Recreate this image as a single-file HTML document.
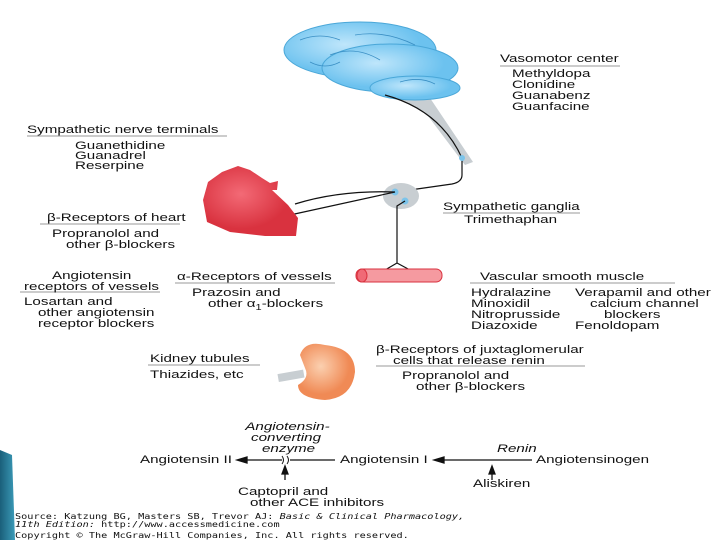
<!DOCTYPE html>
<html><head><meta charset="utf-8"><style>
body{margin:0;width:720px;height:540px;background:#fff;overflow:hidden}
svg text{font-family:"Liberation Sans",sans-serif;font-size:11px;fill:#111;transform-box:fill-box;transform-origin:0 0;transform:scaleX(1.38)}
svg text.m{font-family:"DejaVu Sans Mono","Liberation Mono",monospace;font-size:8px;transform:scaleX(1.28)}
</style></head><body>
<svg width="720" height="540" viewBox="0 0 720 540">
<defs>
<linearGradient id="bl" x1="0" x2="1"><stop offset="0" stop-color="#1a5f7a"/><stop offset="1" stop-color="#3b9bb8"/></linearGradient>
<radialGradient id="br" cx=".4" cy=".4"><stop offset="0" stop-color="#bfe6fb"/><stop offset="1" stop-color="#6cc2ef"/></radialGradient>
<radialGradient id="hr" cx=".4" cy=".4"><stop offset="0" stop-color="#f36a76"/><stop offset="1" stop-color="#d9323f"/></radialGradient>
<radialGradient id="kd" cx=".4" cy=".4"><stop offset="0" stop-color="#fbd0b0"/><stop offset="1" stop-color="#f08a55"/></radialGradient>
</defs>
<path d="M0 450 L12 455 L15 540 L0 540Z" fill="url(#bl)"/>
<path d="M390 95 L430 98 L473 162 L465 165 L425 112 Z" fill="#c8ced2"/>
<ellipse cx="360" cy="50" rx="76" ry="28" fill="url(#br)" stroke="#4aa7d8"/>
<ellipse cx="390" cy="68" rx="68" ry="24" fill="url(#br)" stroke="#4aa7d8"/>
<ellipse cx="415" cy="88" rx="45" ry="12" fill="url(#br)" stroke="#4aa7d8"/>
<path d="M300 40 q20 -8 40 0 M330 55 q25 -10 50 5 M355 35 q30 -5 60 10 M310 62 q15 8 30 0 M400 82 q20 -6 35 2" stroke="#3a8fc4" fill="none" stroke-width=".8"/>
<path d="M385 95 Q440 110 462 158 L462 175 Q462 182 452 184 L410 190" stroke="#111" fill="none" stroke-width="1.2"/>
<ellipse cx="401" cy="196" rx="18" ry="13" fill="#c8ced2"/>
<circle cx="395" cy="192" r="3.5" fill="#7cc4ea"/><circle cx="405" cy="201" r="3.5" fill="#7cc4ea"/><circle cx="462" cy="158" r="3" fill="#7cc4ea"/>
<path d="M395 192 Q340 190 295 204 M395 192 L290 215 M405 201 L397 206 L397 263 M397 263 L385 270 M397 263 L410 270" stroke="#111" fill="none" stroke-width="1.2"/>
<path d="M222 172 L238 166 L250 170 L262 178 L270 183 L278 181 L277 190 L272 190 L288 205 L298 218 L296 236 L265 236 L230 232 L207 222 L203 200 L208 182 Z" fill="url(#hr)"/>
<rect x="356" y="269" width="86" height="13" rx="6" fill="#f59aa0" stroke="#d9323f"/>
<ellipse cx="362" cy="275.5" rx="5" ry="6.5" fill="#f06a76" stroke="#d9323f"/>
<path d="M300 355 Q305 340 325 345 Q355 348 355 372 Q352 398 325 400 Q298 398 298 385 Q310 378 305 368 Z" fill="url(#kd)"/>
<rect x="278" y="372" width="26" height="8" fill="#c8ced2" transform="rotate(-10 290 376)"/>
<g stroke="#999" stroke-width="1">
<line x1="500" y1="66" x2="620" y2="66"/><line x1="27" y1="136" x2="227" y2="136"/>
<line x1="40" y1="224" x2="180" y2="224"/><line x1="443" y1="213" x2="580" y2="213"/>
<line x1="20" y1="292" x2="160" y2="292"/><line x1="175" y1="283" x2="335" y2="283"/>
<line x1="470" y1="283" x2="675" y2="283"/><line x1="148" y1="365" x2="260" y2="365"/>
<line x1="376" y1="366" x2="585" y2="366"/></g>
<text x="500" y="62">Vasomotor center</text>
<text x="512" y="77">Methyldopa</text><text x="512" y="88">Clonidine</text><text x="512" y="99">Guanabenz</text><text x="512" y="110">Guanfacine</text>
<text x="27" y="133">Sympathetic nerve terminals</text>
<text x="75" y="149">Guanethidine</text><text x="75" y="159">Guanadrel</text><text x="75" y="169">Reserpine</text>
<text x="47" y="221">β-Receptors of heart</text>
<text x="52" y="237">Propranolol and</text><text x="66" y="248">other β-blockers</text>
<text x="443" y="210">Sympathetic ganglia</text><text x="464" y="223">Trimethaphan</text>
<text x="52" y="279">Angiotensin</text><text x="24" y="290">receptors of vessels</text>
<text x="24" y="305">Losartan and</text><text x="38" y="316">other angiotensin</text><text x="38" y="327">receptor blockers</text>
<text x="177" y="280">α-Receptors of vessels</text>
<text x="192" y="296">Prazosin and</text><text x="208" y="307">other α<tspan font-size="8" dy="3">1</tspan><tspan dy="-3">-blockers</tspan></text>
<text x="480" y="280">Vascular smooth muscle</text>
<text x="471" y="296">Hydralazine</text><text x="471" y="307">Minoxidil</text><text x="471" y="318">Nitroprusside</text><text x="471" y="329">Diazoxide</text>
<text x="575" y="296">Verapamil and other</text><text x="590" y="307">calcium channel</text><text x="604" y="318">blockers</text><text x="575" y="329">Fenoldopam</text>
<text x="150" y="362">Kidney tubules</text><text x="150" y="378">Thiazides, etc</text>
<text x="376" y="353">β-Receptors of juxtaglomerular</text><text x="393" y="364">cells that release renin</text>
<text x="402" y="379">Propranolol and</text><text x="416" y="390">other β-blockers</text>
<text x="245" y="430" font-style="italic">Angiotensin-</text><text x="251" y="441" font-style="italic">converting</text><text x="262" y="452" font-style="italic">enzyme</text><text x="497" y="452" font-style="italic">Renin</text>
<text x="140" y="463">Angiotensin II</text><text x="340" y="463">Angiotensin I</text><text x="536" y="463">Angiotensinogen</text>
<text x="473" y="487">Aliskiren</text>
<text x="238" y="495">Captopril and</text><text x="250" y="506">other ACE inhibitors</text>
<g stroke="#111" stroke-width="1.3" fill="#111">
<line x1="245" y1="460" x2="282" y2="460"/><line x1="290" y1="460" x2="335" y2="460"/>
<path d="M237 460 l10 -3 v6z"/>
<line x1="442" y1="460" x2="532" y2="460"/><path d="M434 460 l10 -3 v6z"/>
<line x1="285" y1="480" x2="285" y2="472"/><path d="M285 466 l-3 8 h6z"/>
<line x1="492" y1="480" x2="492" y2="472"/><path d="M492 466 l-3 8 h6z"/>
</g>
<path d="M282 456 q3 4 0 8 M287 456 q3 4 0 8" stroke="#111" fill="none"/>
<text class="m" x="15" y="519">Source: Katzung BG, Masters SB, Trevor AJ: <tspan font-style="italic">Basic &amp; Clinical Pharmacology,</tspan></text>
<text class="m" x="15" y="527"><tspan font-style="italic">11th Edition:</tspan> http://www.accessmedicine.com</text>
<text class="m" x="15" y="538">Copyright © The McGraw-Hill Companies, Inc. All rights reserved.</text>
</svg>
</body></html>
